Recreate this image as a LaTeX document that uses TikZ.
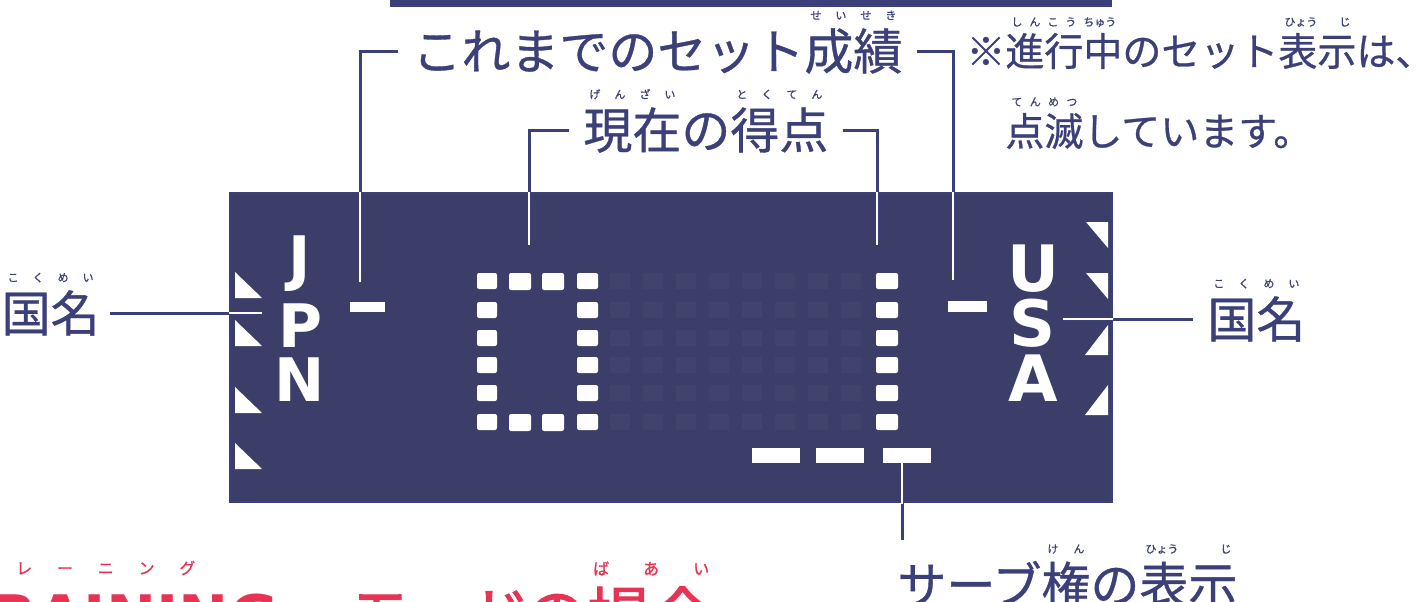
\documentclass[tikz,border=0pt]{standalone}
\usepackage{fontspec}
\setmainfont{DejaVu Sans}
\newfontfamily\jpfont{Noto Sans CJK JP}[FakeBold=0.7]
\newfontfamily\jppfont{Noto Sans CJK JP}[RawFeature=+palt, FakeBold=1.5]
\newfontfamily\lcdfont{DejaVu Sans}
\usepackage{tikz}
\usetikzlibrary{positioning,calc}

\definecolor{ink}{RGB}{60,64,120}
\definecolor{panel}{RGB}{58,62,104}
\definecolor{pagered}{RGB}{232,52,84}

% reading set over a word
\newsavebox\furibox
\newcommand{\furi}[3][5.5]{\sbox\furibox{#2}\rlap{\smash{\raisebox{1.02em}{\makebox[\wd\furibox][s]{\hspace{3pt}\fontsize{#1}{#1}\selectfont #3\hspace{3pt}}}}}\usebox\furibox}

\tikzset{
  lbl/.style={font=\jpfont\fontsize{24.5}{28}\selectfont, text=ink, inner ysep=0pt, inner xsep=7pt},
  note/.style={font=\jpfont\fontsize{19.5}{24}\selectfont, text=ink, inner sep=0pt, anchor=west},
  leader/.style={draw=ink, line width=1.5pt},
  lcd/.style={font=\lcdfont\bfseries\fontsize{#1}{#1}\selectfont, text=white, inner sep=0pt},
  servebar/.style={fill=white, minimum width=24pt, minimum height=7.5pt, inner sep=0pt},
  panelbox/.style={fill=panel, draw=ink, line width=1pt, minimum width=441pt, minimum height=154.5pt, inner sep=0pt}
}

\newcommand{\calloutlines}[1]{%
  \draw[#1] (setlbl.west) -| (setL);
  \draw[#1] (setlbl.east) -| (setR);
  \draw[#1] (scorelbl.west) -| (scoreL);
  \draw[#1] (scorelbl.east) -| (scoreR);
  \draw[#1] (natlblL.east) -- (natL);
  \draw[#1] (natlblR.west) -- (natR);
  \draw[#1] (serveend |- bar3.south) -- (serveend);
}

\begin{document}
\begin{tikzpicture}[x=0.5pt, y=-0.5pt]
    \useasboundingbox (0,0) rectangle (1424,601);
    \clip (0,0) rectangle (1424,601);

    % edge of the panel above
    \fill[ink] (390,-5) rectangle (1112,7);

    % score panel
    \node[panelbox] (display) at (671,347.5) {};
    % unlit cells
    \foreach \x in {620,653,686,719,752,785,818,851}
        \foreach \y in {281,310,338,365,393,422}
            \fill[white, opacity=0.035] (\x-10,\y-8) rectangle (\x+10,\y+8);

    % side marks
    \foreach \y in {272,320,387,443}
        \fill[white] (235,\y) -- (235,\y+26) -- (262,\y+26) -- cycle;
    \foreach \y in {222,273}
        \fill[white] (1086,\y) -- (1108,\y) -- (1108,\y+26) -- cycle;
    \foreach \y in {325,385}
        \fill[white] (1108,\y) -- (1108,\y+30) -- (1085,\y+30) -- cycle;

    % country names
    \node[lcd=30] (j) at (300,264) {J};
    \node[lcd=30] (p) at (300,326) {P};
    \node[lcd=30] (n) at (300,380) {N};
    \node[lcd=32] (u) at (1033,269) {U};
    \node[lcd=32] (s) at (1033,323) {S};
    \node[lcd=32] (a) at (1033,378) {A};

    % set dashes
    \fill[white] (350,302) rectangle (385,312);
    \fill[white] (948,301) rectangle (987,312);

    % score digits 0 and 1
    \foreach \y in {281,310,338,365,393,422} {
        \fill[white, rounded corners=1] (477,\y-8) rectangle (497,\y+8);
        \fill[white, rounded corners=1] (577,\y-8) rectangle (598,\y+8);
        \fill[white, rounded corners=1] (876,\y-8) rectangle (898,\y+8);
    }
    \foreach \x in {520,553} {
        \fill[white, rounded corners=1] (\x-11,273) rectangle (\x+11,290);
        \fill[white, rounded corners=1] (\x-11,414) rectangle (\x+11,431);
    }

    % serve marks
    \node[servebar] (bar1) at (776,455) {};
    \node[servebar] (bar2) at (840,455) {};
    \node[servebar] (bar3) at (907,455) {};

    % labels
    \node[lbl, anchor=west] (setlbl) at (398,51) {これまでのセット\furi{成績}{せ い せ き}};
    \node[lbl, anchor=west] (scorelbl) at (569,130) {\furi{現在}{げ ん ざ い}の\furi{得点}{と く て ん}};
    \node[note] (note1) at (966,51) {※\furi{進行中}{し ん こ う ちゅう}のセット\furi{表示}{ひょう じ}は、};
    \node[note] (note2) at (1005,131) {\furi{点滅}{て ん め つ}しています。};
    \node[lbl, anchor=east, inner xsep=5pt] (natlblL) at (110,313) {\furi{国名}{こ く め い}};
    \node[lbl, anchor=west] (natlblR) at (1193,319) {\furi{国名}{こ く め い}};
    \node[lbl, anchor=base west, inner xsep=0pt] (servelbl) at (897,603) {サーブ\furi{権}{け ん}の\furi{表示}{ひょう じ}};

    \coordinate (setL) at (360,282);
    \coordinate (setR) at (953,280);
    \coordinate (scoreL) at (529,245);
    \coordinate (scoreR) at (877,245);
    \coordinate (natL) at (262,313);
    \coordinate (natR) at (1063,319);
    \coordinate (serveend) at (902,540);

    \calloutlines{leader}
    \begin{scope}
        \clip (display.south west) rectangle (display.north east);
        \calloutlines{white, line width=1pt}
    \end{scope}

    % page heading, cut by the bottom edge
    \node[anchor=base west, inner sep=0pt, text=pagered, font=\lcdfont\bfseries\fontsize{30}{30}\selectfont] (title) at (-50,638) {TRAINING};
    \node[anchor=base west, inner sep=0pt, text=pagered, font=\jppfont\fontsize{32}{32}\selectfont] (titlejp) at (350,640) {モードの\furi[8]{場合}{ば あ い}};
    \node[anchor=west, inner sep=0pt, text=pagered, font=\jpfont\fontsize{8}{8}\selectfont] (titleruby) at (-25,568) {\makebox[110pt][s]{ト レ ー ニ ン グ}};
\end{tikzpicture}
\end{document}
